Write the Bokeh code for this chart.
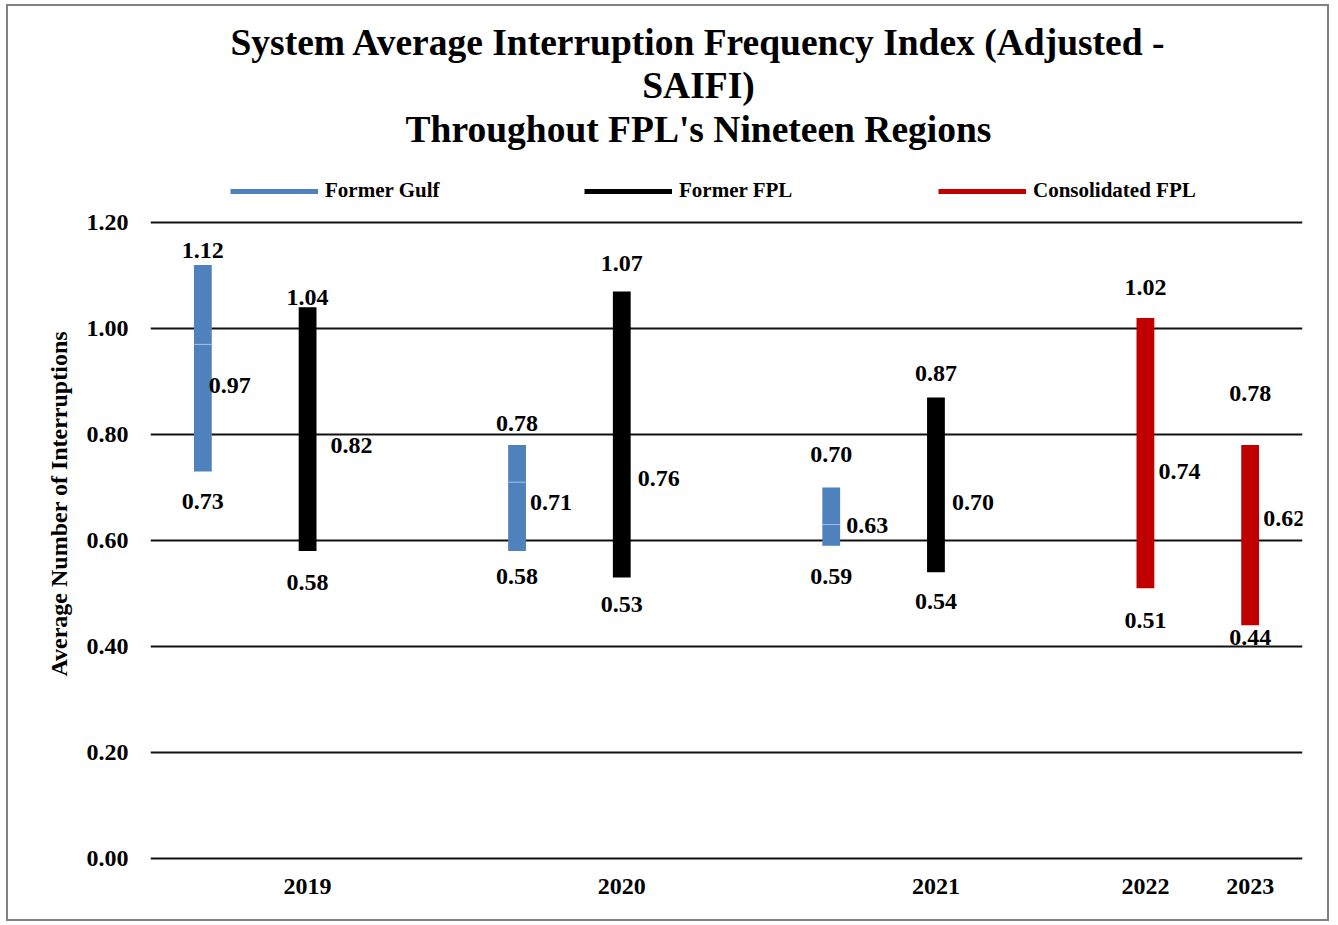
from bokeh.plotting import figure
from bokeh.models import (ColumnDataSource, Legend, LegendItem, Label, Title,
                          FixedTicker, Range1d, NumeralTickFormatter)
from bokeh.embed import file_html
from bokeh.resources import INLINE
from bokeh.core.properties import value

# ---------------- data ----------------
series = ["Former Gulf", "Former FPL", "Former Gulf", "Former FPL",
          "Former Gulf", "Former FPL", "Consolidated FPL", "Consolidated FPL"]
years = ["2019", "2019", "2020", "2020", "2021", "2021", "2022", "2023"]
high = [1.12, 1.04, 0.78, 1.07, 0.70, 0.87, 1.02, 0.78]
low = [0.73, 0.58, 0.58, 0.53, 0.59, 0.54, 0.51, 0.44]
avg = [0.97, 0.82, 0.71, 0.76, 0.63, 0.70, 0.74, 0.62]
y_ticks = [0.0, 0.2, 0.4, 0.6, 0.8, 1.0, 1.2]
title_lines = ["System Average Interruption Frequency Index (Adjusted -",
               "SAIFI)",
               "Throughout FPL's Nineteen Regions"]
y_title = "Average Number of Interruptions"
legend_names = ["Former Gulf", "Former FPL", "Consolidated FPL"]

# ---------------- layout / style ----------------
slots = [0, 1, 3, 4, 6, 7, 9, 10]          # horizontal slot of each bar
colors = {"Former Gulf": "#4F81BD", "Former FPL": "#000000",
          "Consolidated FPL": "#C00000"}
hi_dy = [-14, -10, -22, -28, -33, -24, -30, -52]   # px label offsets
lo_dy = [30, 31, 25, 27, 31, 29, 32, 12]
av_dx = [27, 44, 34, 37, 36, 37, 34, 34]
av_dy = [41, 22, 20, 23, 1, 15, 5, -11]
FONT = "Liberation Serif"
BAR_W = 0.17

# page geometry (px); canvas is W x H, border drawn outside it
HOST_X, HOST_Y, BORDER = 6, 4, 2
W, H = 1323, 917
CANVAS_X, CANVAS_Y = HOST_X + BORDER, HOST_Y + BORDER
FR_L, FR_R, FR_T, FR_B = 150, 1302, 16, 860     # frame edges on page
Y0_PX, Y12_PX = 858, 222                       # page y of 0.00 and 1.20
ppu = (Y0_PX - Y12_PX) / 1.2
y_lo = -(FR_B - Y0_PX) / ppu
y_hi = (Y0_PX - FR_T) / ppu

p = figure(width=W, height=H, output_backend="svg", toolbar_location=None,
           x_range=Range1d(-0.5, 10.5), y_range=Range1d(y_lo, y_hi),
           min_border_left=FR_L - CANVAS_X,
           min_border_right=(CANVAS_X + W) - FR_R,
           min_border_top=FR_T - CANVAS_Y,
           min_border_bottom=(CANVAS_Y + H) - FR_B)
p.styles = {"border": "%dpx solid #808080" % BORDER,
            "margin-left": "%dpx" % HOST_X, "margin-top": "%dpx" % HOST_Y}
p.outline_line_color = None
p.background_fill_color = "white"
p.border_fill_color = "white"


def sx(px):
    return px - FR_L


def sy(py):
    return FR_B - py


src = ColumnDataSource(dict(
    x=slots, high=high, low=low, avg=avg,
    color=[colors[s] for s in series],
    hi_txt=["%.2f" % v for v in high],
    lo_txt=["%.2f" % v for v in low],
    av_txt=["%.2f" % v for v in avg],
    hi_dy=hi_dy, lo_dy=lo_dy, av_dx=av_dx, av_dy=av_dy,
))

# grid
p.xgrid.visible = False
p.ygrid.ticker = FixedTicker(ticks=y_ticks)
p.ygrid.grid_line_color = "#111111"
p.ygrid.grid_line_width = 2

# bars
p.vbar(x="x", bottom="low", top="high", width=BAR_W, fill_color="color",
       line_color=None, source=src)

# average marker on Gulf bars
g_idx = [i for i, s in enumerate(series) if s == "Former Gulf"]
p.segment(x0=[slots[i] - BAR_W / 2 for i in g_idx],
          x1=[slots[i] + BAR_W / 2 for i in g_idx],
          y0=[avg[i] for i in g_idx], y1=[avg[i] for i in g_idx],
          line_color="#A8C2E6", line_width=1)

txt = dict(text_font=value(FONT), text_font_style="bold",
           text_font_size="24px", text_color="black",
           text_baseline="middle", source=src)
p.text(x="x", y="high", text="hi_txt", y_offset="hi_dy", text_align="center", **txt)
p.text(x="x", y="low", text="lo_txt", y_offset="lo_dy", text_align="center", **txt)
p.text(x="x", y="avg", text="av_txt", x_offset="av_dx", y_offset="av_dy",
       text_align="center", **txt)

# axes
p.yaxis.ticker = FixedTicker(ticks=y_ticks)
p.yaxis.formatter = NumeralTickFormatter(format="0.00")
p.yaxis.axis_line_color = None
p.yaxis.major_tick_line_color = None
p.yaxis.minor_tick_line_color = None
p.yaxis.major_label_standoff = 16
p.yaxis.major_label_text_font = FONT
p.yaxis.major_label_text_font_style = "bold"
p.yaxis.major_label_text_font_size = "24px"
p.yaxis.major_label_text_color = "black"

year_pos = {}
for s, y in zip(slots, years):
    year_pos[y] = s
p.xaxis.ticker = FixedTicker(ticks=list(year_pos.values()))
p.xaxis.major_label_overrides = {v: k for k, v in year_pos.items()}
p.xaxis.axis_line_color = None
p.xaxis.major_tick_line_color = None
p.xaxis.minor_tick_line_color = None
p.xaxis.major_label_standoff = 12
p.xaxis.major_label_text_font = FONT
p.xaxis.major_label_text_font_style = "bold"
p.xaxis.major_label_text_font_size = "24px"
p.xaxis.major_label_text_color = "black"

# y-axis title (left side, starts at page y=675)
p.add_layout(Title(text=y_title, align="left", offset=FR_B - 676, standoff=24,
                   text_font=FONT, text_font_style="bold",
                   text_font_size="24px", text_color="black"), "left")

# chart title lines (inside the extended frame)
for line, yc in zip(title_lines, [42, 85, 129]):
    p.add_layout(Label(x=sx(698), y=sy(yc), x_units="screen", y_units="screen",
                       text=line, text_align="center", text_baseline="middle",
                       text_font=FONT, text_font_style="bold",
                       text_font_size="37.5px", text_color="black"))

# legend
items = []
for name in legend_names:
    r = p.line(x=[float("nan")], y=[float("nan")], line_color=colors[name],
               line_width=5)
    items.append(LegendItem(label=name, renderers=[r]))
legend = Legend(items=items, orientation="horizontal", location=(sx(230), sy(203)),
                glyph_width=88, glyph_height=20, label_height=20, label_standoff=7,
                label_width=200, spacing=59, padding=0, margin=0,
                border_line_color=None, background_fill_alpha=0,
                label_text_font=FONT, label_text_font_style="bold",
                label_text_font_size="21px", label_text_color="black")
p.add_layout(legend, "center")

open("out.html", "w").write(file_html(p, INLINE))
